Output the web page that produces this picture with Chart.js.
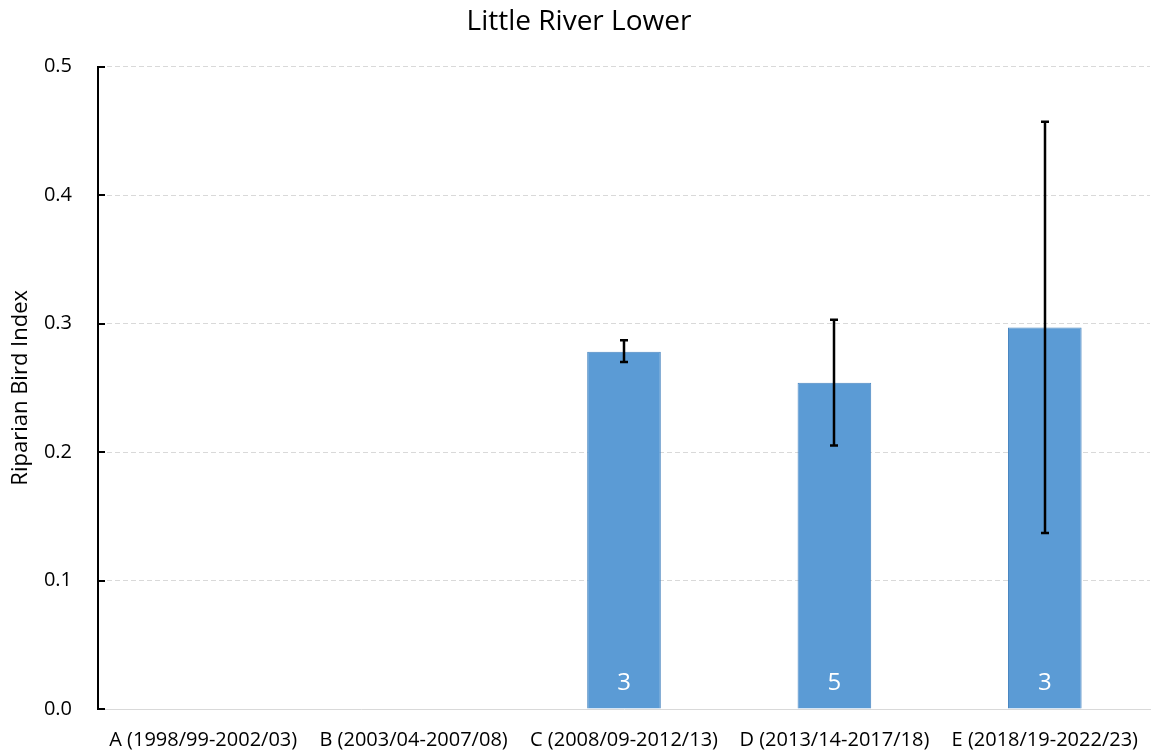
<!DOCTYPE html>
<html>
<head>
<meta charset="utf-8">
<title>Little River Lower</title>
<script src="https://cdn.jsdelivr.net/npm/chart.js@4/dist/chart.umd.min.js"></script>
<style>
  html, body { margin: 0; padding: 0; background: #ffffff; }
  #wrap { width: 1153px; height: 756px; position: relative; }
</style>
</head>
<body>
<div id="wrap"><canvas id="chart"></canvas></div>
<script>
// Survey periods
const periods = [
  'A (1998/99-2002/03)',
  'B (2003/04-2007/08)',
  'C (2008/09-2012/13)',
  'D (2013/14-2017/18)',
  'E (2018/19-2022/23)'
];
// Mean Riparian Bird Index per period
const indexMean = [null, null, 0.278, 0.254, 0.297];
// Error bar limits
const errLow  = [null, null, 0.270, 0.205, 0.137];
const errHigh = [null, null, 0.287, 0.303, 0.457];
// Number of surveys in each period
const sampleCount = [null, null, 3, 5, 3];
// Y-axis tick values
const yTicks = [0, 0.1, 0.2, 0.3, 0.4, 0.5];

const FONT = "'Open Sans', 'Liberation Sans', sans-serif";

// Error bars with end caps
const errorBars = {
  id: 'errorBars',
  afterDatasetsDraw(chart) {
    const { ctx, scales: { y } } = chart;
    const meta = chart.getDatasetMeta(0);
    ctx.save();
    ctx.strokeStyle = '#000000';
    ctx.lineWidth = 2.5;
    meta.data.forEach((bar, i) => {
      if (errLow[i] == null || errHigh[i] == null) return;
      const x = Math.round(bar.x);
      const yl = y.getPixelForValue(errLow[i]);
      const yh = y.getPixelForValue(errHigh[i]);
      ctx.beginPath();
      ctx.moveTo(x, yl); ctx.lineTo(x, yh);
      ctx.moveTo(x - 4, yl); ctx.lineTo(x + 4, yl);
      ctx.moveTo(x - 4, yh); ctx.lineTo(x + 4, yh);
      ctx.stroke();
    });
    ctx.restore();
  }
};

// Sample counts written at the foot of each bar
const countLabels = {
  id: 'countLabels',
  afterDatasetsDraw(chart) {
    const { ctx, scales: { y } } = chart;
    const meta = chart.getDatasetMeta(0);
    ctx.save();
    ctx.fillStyle = '#ffffff';
    ctx.font = '24px ' + FONT;
    ctx.textAlign = 'center';
    ctx.textBaseline = 'middle';
    meta.data.forEach((bar, i) => {
      if (sampleCount[i] == null) return;
      ctx.fillText(String(sampleCount[i]), bar.x, y.getPixelForValue(0) - 26);
    });
    ctx.restore();
  }
};

// Short tick marks on the inner side of the value axis
const innerTicks = {
  id: 'innerTicks',
  afterDraw(chart) {
    const { ctx, scales: { y } } = chart;
    ctx.save();
    ctx.strokeStyle = '#000000';
    ctx.lineWidth = 2;
    yTicks.forEach(v => {
      const py = Math.round(y.getPixelForValue(v));
      ctx.beginPath();
      ctx.moveTo(y.right, py);
      ctx.lineTo(y.right + 7, py);
      ctx.stroke();
    });
    ctx.restore();
  }
};

new Chart(document.getElementById('chart'), {
  type: 'bar',
  data: {
    labels: periods,
    datasets: [{
      data: indexMean,
      backgroundColor: '#5b9bd5',
      borderColor: '#4a86c0',
      borderWidth: 1,
      categoryPercentage: 1,
      barPercentage: 0.35
    }]
  },
  options: {
    responsive: true,
    maintainAspectRatio: false,
    animation: false,
    layout: { padding: { left: 8, right: 3, top: 5, bottom: 4 } },
    plugins: {
      legend: { display: false },
      tooltip: { enabled: false },
      title: {
        display: true,
        text: 'Little River Lower',
        color: '#000000',
        font: { family: FONT, size: 28, weight: 'normal' },
        padding: { top: 0, bottom: 28 }
      }
    },
    scales: {
      x: {
        afterFit(scale) {
          scale.height = 43;
          scale.paddingLeft = 0;
          scale.paddingRight = 0;
        },
        grid: { display: true, color: 'rgba(0,0,0,0)', drawTicks: false },
        border: { display: true, color: '#d9d9d9', width: 1 },
        ticks: {
          color: '#000000',
          font: { family: FONT, size: 20 },
          padding: 19,
          maxRotation: 0,
          autoSkip: false
        }
      },
      y: {
        min: 0,
        max: 0.5,
        afterBuildTicks(scale) { scale.ticks = yTicks.map(v => ({ value: v })); },
        afterFit(scale) { scale.width = 90; },
        grid: { color: '#d9d9d9', drawTicks: false, lineWidth: 1 },
        border: { display: true, color: '#000000', width: 2, dash: [5, 3] },
        ticks: {
          color: '#000000',
          font: { family: FONT, size: 20 },
          padding: 26,
          callback: v => Number(v).toFixed(1)
        },
        title: {
          display: true,
          text: 'Riparian Bird Index',
          color: '#000000',
          font: { family: FONT, size: 22 },
          padding: { top: 0, bottom: 11 }
        }
      }
    }
  },
  plugins: [errorBars, countLabels, innerTicks]
});
</script>
</body>
</html>
